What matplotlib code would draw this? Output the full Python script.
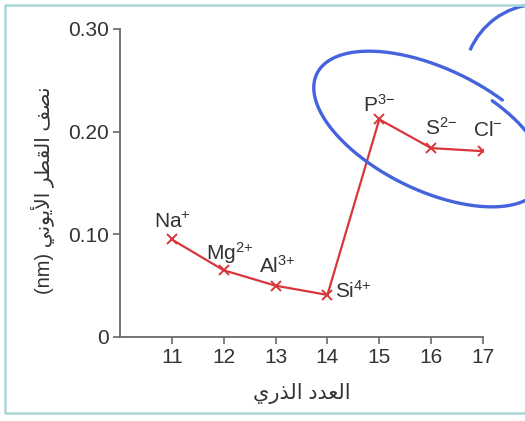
import matplotlib
matplotlib.use('Agg')
import matplotlib.pyplot as plt
import numpy as np
from matplotlib.transforms import IdentityTransform
from matplotlib.patches import Arc
from matplotlib.lines import Line2D

# ---------------- data ----------------
atomic_numbers = [11, 12, 13, 14, 15, 16, 17]
ionic_radius_nm = [0.095, 0.065, 0.050, 0.041, 0.212, 0.184, 0.181]
ion_labels = ['Na$^{{+}}$', 'Mg$^{2{+}}$', 'Al$^{3{+}}$', 'Si$^{4{+}}$',
              'P$^{3{-}}$', 'S$^{2{-}}$', 'Cl$^{{-}}$']
x_ticks = [11, 12, 13, 14, 15, 16, 17]
y_ticks = [0, 0.10, 0.20, 0.30]
y_tick_labels = ['0', '0.10', '0.20', '0.30']
x_label_ar = 'العدد الذري'
y_label_ar = 'نصف القطر الأيوني'
y_unit = '(nm)'

# label offsets (pixels) for ion names
label_offsets = [(-18, 11), (-18, 10), (-17, 13), (8, -3), (-16, 8), (-6, 13), (-10, 15)]

# ---------------- tiny Arabic shaper ----------------
FORMS = {
    'ا': ('\uFE8D', '\uFE8E', None, None),
    'أ': ('\uFE83', '\uFE84', None, None),
    'ل': ('\uFEDD', '\uFEDE', '\uFEDF', '\uFEE0'),
    'ن': ('\uFEE5', '\uFEE6', '\uFEE7', '\uFEE8'),
    'ص': ('\uFEB9', '\uFEBA', '\uFEBB', '\uFEBC'),
    'ف': ('\uFED1', '\uFED2', '\uFED3', '\uFED4'),
    'ق': ('\uFED5', '\uFED6', '\uFED7', '\uFED8'),
    'ط': ('\uFEC1', '\uFEC2', '\uFEC3', '\uFEC4'),
    'ر': ('\uFEAD', '\uFEAE', None, None),
    'ي': ('\uFEF1', '\uFEF2', '\uFEF3', '\uFEF4'),
    'و': ('\uFEED', '\uFEEE', None, None),
    'ع': ('\uFEC9', '\uFECA', '\uFECB', '\uFECC'),
    'د': ('\uFEA9', '\uFEAA', None, None),
    'ذ': ('\uFEAB', '\uFEAC', None, None),
}
LAM_ALEF = {'ا': ('\uFEFB', '\uFEFC'), 'أ': ('\uFEF7', '\uFEF8')}


def shape_rtl(text):
    out = []
    i = 0
    prev_joins = False
    while i < len(text):
        c = text[i]
        if c not in FORMS:
            out.append(c)
            prev_joins = False
            i += 1
            continue
        if c == 'ل' and i + 1 < len(text) and text[i + 1] in LAM_ALEF:
            iso, fin = LAM_ALEF[text[i + 1]]
            out.append(fin if prev_joins else iso)
            prev_joins = False
            i += 2
            continue
        iso, fin, ini, med = FORMS[c]
        nxt = text[i + 1] if i + 1 < len(text) else None
        next_joins = (ini is not None) and (nxt in FORMS)
        if prev_joins and next_joins:
            g = med
        elif prev_joins:
            g = fin
        elif next_joins:
            g = ini
        else:
            g = iso
        out.append(g)
        prev_joins = next_joins
        i += 1
    return ''.join(reversed(out))


# ---------------- style ----------------
plt.rcParams['font.family'] = ['Liberation Sans', 'DejaVu Sans']
plt.rcParams['mathtext.fontset'] = 'custom'
plt.rcParams['mathtext.rm'] = 'Liberation Sans'
plt.rcParams['mathtext.it'] = 'Liberation Sans'
plt.rcParams['mathtext.default'] = 'regular'

W, H = 525, 421
fig = plt.figure(figsize=(W / 100, H / 100), dpi=100)
fig.patch.set_facecolor('white')
ax = fig.add_axes([120 / W, 84 / H, 363 / W, 308 / H])

line_color = '#d8363a'
text_color = '#333333'
axis_color = '#6a6a6a'

ax.plot(atomic_numbers, ionic_radius_nm, color=line_color, lw=1.6,
        marker='x', markersize=7, markeredgewidth=1.4, zorder=3)

for xv, yv, lab, (dx, dy) in zip(atomic_numbers, ionic_radius_nm, ion_labels, label_offsets):
    ax.annotate(lab, (xv, yv), xytext=(dx, dy), textcoords='offset pixels',
                ha='left', va='baseline', fontsize=15, color=text_color)

ax.set_xlim(10, 17)
ax.set_ylim(0, 0.30)
ax.set_xticks(x_ticks)
ax.set_xticklabels([str(v) for v in x_ticks])
ax.set_yticks(y_ticks)
ax.set_yticklabels(y_tick_labels)

for s in ['top', 'right']:
    ax.spines[s].set_visible(False)
for s in ['left', 'bottom']:
    ax.spines[s].set_color(axis_color)
    ax.spines[s].set_linewidth(1.3)

ax.tick_params(direction='out', length=5, width=1.2, color=axis_color,
               labelsize=15, labelcolor=text_color, pad=3)

ax.set_ylabel(y_unit + ' ' + shape_rtl(y_label_ar), fontsize=14.5,
              color=text_color, va='center')
ax.yaxis.set_label_coords(-0.212, 0.477)
ax.set_xlabel(shape_rtl(x_label_ar), fontsize=15, color=text_color, va='center')
ax.xaxis.set_label_coords(0.5, -0.182)

# ---------------- frame and hand-drawn annotations ----------------
ident = IdentityTransform()
frame_color = '#a9d7d9'
fig.add_artist(Line2D([W, 5, 5, W], [H - 5, H - 5, H - 413, H - 413],
                      color=frame_color, lw=1.8, transform=ident))

blue = '#4563dc'
cx, cy = 432, H - 131
a, b = 130, 62
ang = np.deg2rad(-26)
t = np.deg2rad(np.linspace(70, 70 - 362, 400))
s = np.linspace(0.92, 1.02, t.size)
ex = a * s * np.cos(t)
ey = b * s * np.sin(t)
px = cx + ex * np.cos(ang) - ey * np.sin(ang)
py = cy + ex * np.sin(ang) + ey * np.cos(ang)
fig.add_artist(Line2D(px, py, color=blue, lw=2.4, transform=ident,
                      solid_capstyle='round'))

fig.add_artist(Arc((540, H - 80), 152, 152, theta1=95, theta2=157,
                   edgecolor=blue, lw=2.4, transform=ident))

fig.savefig('out.png', dpi=100)
